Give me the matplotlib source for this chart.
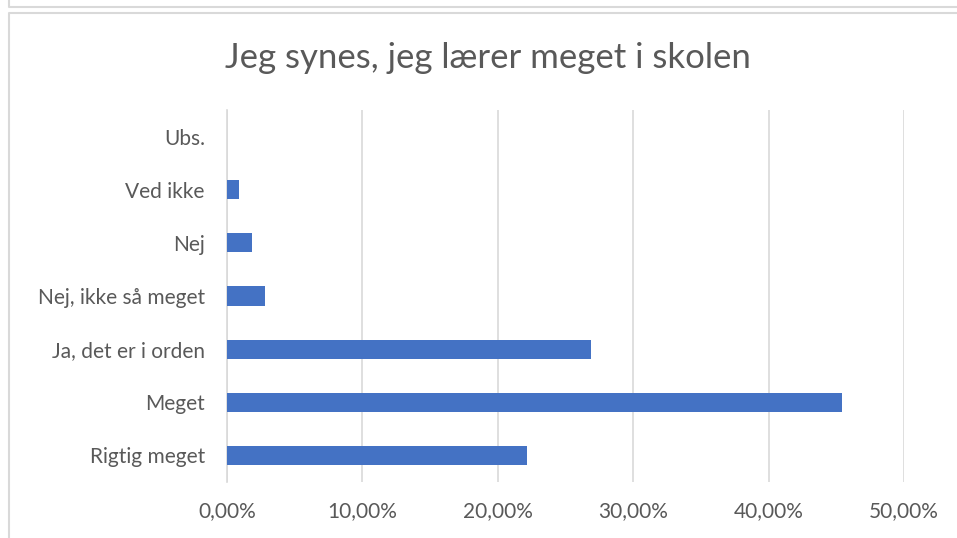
import matplotlib
matplotlib.use('Agg')
import matplotlib.pyplot as plt
from matplotlib.lines import Line2D
from matplotlib.ticker import FuncFormatter

# svar-kategorier (nederst til øverst) og andel i procent
categories = ['Rigtig meget', 'Meget', 'Ja, det er i orden', 'Nej, ikke så meget',
              'Nej', 'Ved ikke', 'Ubs.']
values = [22.16, 45.39, 26.89, 2.78, 1.87, 0.89, 0.0]
x_ticks = [0, 10, 20, 30, 40, 50]
title = 'Jeg synes, jeg lærer meget i skolen'

plt.rcParams['font.family'] = ['Lato', 'DejaVu Sans']
text_color = '#595959'
grid_color = '#d9d9d9'

fig = plt.figure(figsize=(9.57, 5.38), dpi=100)
ax = fig.add_axes([227 / 957, 1 - 482 / 538, (904 - 227) / 957, (482 - 110) / 538])

ax.barh(range(len(categories)), values, height=0.36, color='#4472C4', zorder=3)
ax.set_xlim(0, 50)
ax.set_ylim(-0.5, len(categories) - 0.5)
ax.set_xticks(x_ticks)
ax.xaxis.set_major_formatter(FuncFormatter(lambda v, p: f'{v:.2f}'.replace('.', ',') + '%'))
ax.set_yticks(range(len(categories)))
ax.set_yticklabels(categories)

ax.grid(axis='x', color=grid_color, linewidth=1.2, zorder=0)
for s in ['top', 'right', 'bottom']:
    ax.spines[s].set_visible(False)
ax.spines['left'].set_color(grid_color)
ax.spines['left'].set_linewidth(1.2)
ax.tick_params(length=0, labelsize=15, labelcolor=text_color)
ax.tick_params(axis='x', pad=14)
ax.tick_params(axis='y', pad=16)

fig.text(0.51, 1 - 58 / 538, title, ha='center', va='center', fontsize=25, color=text_color)

# rammer om diagrammet
fig.add_artist(Line2D([8.5 / 957, 8.5 / 957, 1], [1, 1 - 6.5 / 538, 1 - 6.5 / 538],
                      color=grid_color, linewidth=1.5))
fig.add_artist(Line2D([8.5 / 957, 8.5 / 957, 1], [0, 1 - 12.5 / 538, 1 - 12.5 / 538],
                      color=grid_color, linewidth=1.5))

fig.savefig('out.png', dpi=100)
